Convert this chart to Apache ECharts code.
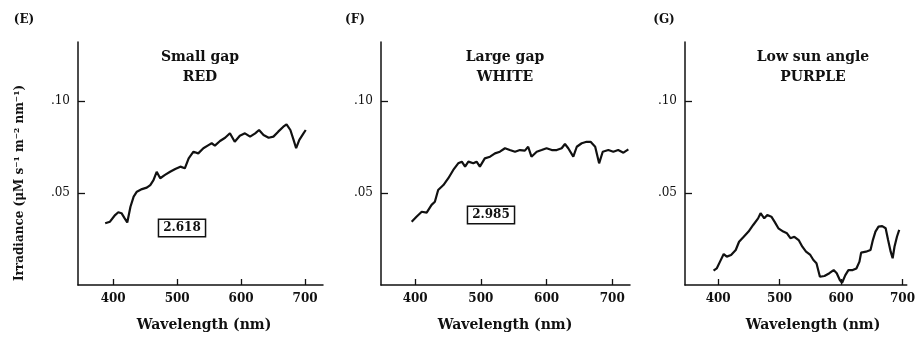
<!DOCTYPE html>
<html>
<head>
<meta charset="utf-8">
<script src="https://cdn.jsdelivr.net/npm/echarts@6/dist/echarts.min.js"></script>
<style>html,body{margin:0;padding:0;background:#fff}#c{width:918px;height:338px}</style>
</head>
<body>
<div id="c"></div>
<script>
// ---- data ----
const xTicks = [400, 500, 600, 700];
const yTicks = [0.05, 0.10];
const yTickLabels = ['.05', '.10'];

const panelLetters = ['(E)', '(F)', '(G)'];
const panelTitles = ['Small gap\nRED', 'Large gap\nWHITE', 'Low sun angle\nPURPLE'];
const boxValues = ['2.618', '2.985'];
const xName = 'Wavelength (nm)';
const yName = 'Irradiance (\u03bcM s\u207b\u00b9 m\u207b\u00b2 nm\u207b\u00b9)';

const wavelengthE = [387.5,395,403,408,413,418,422,427,432,437,445,452.5,458,463,468,473.5,481,489,497,505,512,518,525.5,533,541,549,554,559,567,575,582.5,590,598,606,614,622,628,635,643,650.5,658,666,671,677,682,686,691,697.5,701];
const irradianceE = [.0335,.0344,.038,.0395,.039,.0362,.034,.0425,.048,.0507,.0521,.0529,.0543,.057,.0615,.058,.0598,.0615,.063,.0643,.0634,.0688,.0724,.0715,.0743,.076,.077,.0757,.0782,.08,.0824,.0778,.0811,.0824,.0806,.0824,.0842,.0815,.08,.0806,.0833,.086,.0873,.0842,.0788,.0743,.0788,.0824,.0842];

const wavelengthF = [394.7,402,410,417.5,425,430,435,443,450.5,458,465.5,471,476,481,488.5,493.5,498.5,506,514,521.5,529,536.7,544,552,559.5,567,572,577,585,592.5,600,608,615.5,623,628,633,640.7,646,653.5,661,667,674,677,680,685.5,694,701.6,709,717,724.5];
const irradianceF = [.0344,.0371,.0398,.0393,.0435,.0452,.0516,.0543,.058,.0625,.0661,.067,.0643,.067,.0661,.067,.0643,.0688,.0697,.0715,.0724,.0743,.0733,.0724,.0733,.073,.0751,.0697,.0724,.0733,.0743,.0733,.0733,.0743,.0766,.0743,.0697,.0751,.077,.0778,.0778,.0751,.0706,.0661,.0724,.0733,.0724,.0733,.0719,.0737];

const wavelengthG = [392.5,397.6,403,409,414,421,428.6,434,441.6,449.4,457,465,469,475,480,486.6,491.7,498,506,512,517.6,524,531,537,543,550,555,560,565.6,573,581,588,593,598,601.7,607,612,619,625,630,632.7,640.5,648,651.8,656,661,667,672.6,676.6,680.8,684,687,691,694.7];
const irradianceG = [.0078,.009,.0127,.0168,.0154,.0163,.019,.0235,.0262,.029,.0326,.0362,.039,.0362,.038,.0371,.0344,.0308,.029,.0281,.0254,.0262,.0244,.0208,.0181,.0163,.0136,.0118,.0045,.0049,.0064,.0081,.0064,.0027,.0012,.0054,.0081,.0081,.009,.0127,.0176,.0181,.019,.0244,.029,.0317,.032,.0308,.0244,.0181,.0145,.0208,.0262,.0299];

const xRanges = [[345, 728], [348, 727], [346, 707]];
const yRange = [0, 0.132];

// ---- layout ----
const FONT = 'DejaVu Serif';
const INK = '#111';
const grids = [
  {left: 78, top: 42, width: 245, height: 243},
  {left: 381, top: 42, width: 249, height: 243},
  {left: 685, top: 42, width: 233, height: 243}
];
const titleCenters = [200, 505, 813];
const letterPos = [[24, 20], [355, 20], [664, 20]];
const boxPos = [[182, 228], [491, 215]];
const xNameCenters = [204, 505, 813];

const seriesData = [
  wavelengthE.map((w, i) => [w, irradianceE[i]]),
  wavelengthF.map((w, i) => [w, irradianceF[i]]),
  wavelengthG.map((w, i) => [w, irradianceG[i]])
];

const chart = echarts.init(document.getElementById('c'), null, {renderer: 'canvas'});

const axisLineStyle = {show: true, lineStyle: {color: INK, width: 1.5}};

const option = {
  backgroundColor: '#fff',
  animation: false,
  grid: grids.map(g => Object.assign({containLabel: false}, g)),
  xAxis: grids.map((g, i) => ({
    type: 'value', gridIndex: i, min: xRanges[i][0], max: xRanges[i][1],
    axisLine: axisLineStyle,
    axisTick: {show: true, inside: true, length: 6, customValues: xTicks, lineStyle: {color: INK, width: 1.3}},
    axisLabel: {customValues: xTicks, color: INK, fontFamily: FONT, fontWeight: 'bold', fontSize: 12, margin: 8},
    splitLine: {show: false}
  })),
  yAxis: grids.map((g, i) => ({
    type: 'value', gridIndex: i, min: yRange[0], max: yRange[1],
    axisLine: axisLineStyle,
    axisTick: {show: true, inside: true, length: 7, customValues: yTicks, lineStyle: {color: INK, width: 1.3}},
    axisLabel: {customValues: yTicks, color: INK, fontFamily: FONT, fontSize: 12, margin: 8,
      formatter: v => yTickLabels[yTicks.findIndex(t => Math.abs(t - v) < 1e-9)] || ''},
    splitLine: {show: false}
  })),
  series: seriesData.map((d, i) => ({
    type: 'line', xAxisIndex: i, yAxisIndex: i, data: d, showSymbol: false, symbol: 'none',
    lineStyle: {color: INK, width: 2.2}, smooth: false
  })),
  graphic: [].concat(
    panelLetters.map((t, i) => ({
      type: 'text', x: letterPos[i][0], y: letterPos[i][1],
      style: {text: t, fontFamily: FONT, fontWeight: 'bold', fontSize: 12, fill: INK, align: 'center', verticalAlign: 'middle'}
    })),
    panelTitles.map((t, i) => ({
      type: 'text', x: titleCenters[i], y: 47,
      style: {text: t, fontFamily: FONT, fontWeight: 'bold', fontSize: 14, fill: INK, align: 'center', verticalAlign: 'top', lineHeight: 20}
    })),
    xNameCenters.map(cx => ({
      type: 'text', x: cx, y: 325,
      style: {text: xName, fontFamily: FONT, fontWeight: 'bold', fontSize: 14, fill: INK, align: 'center', verticalAlign: 'middle'}
    })),
    [{
      type: 'text', x: 20, y: 183, rotation: Math.PI / 2,
      style: {text: yName, fontFamily: FONT, fontWeight: 'bold', fontSize: 12, fill: INK, align: 'center', verticalAlign: 'middle'}
    }],
    boxValues.map((t, i) => ({
      type: 'text', x: boxPos[i][0], y: boxPos[i][1],
      style: {text: t, fontFamily: FONT, fontWeight: 'bold', fontSize: 12, fill: INK, align: 'center', verticalAlign: 'middle',
        borderColor: INK, borderWidth: 1.5, padding: [2, 4], backgroundColor: '#fff'}
    }))
  )
};
chart.setOption(option);
</script>
</body>
</html>
